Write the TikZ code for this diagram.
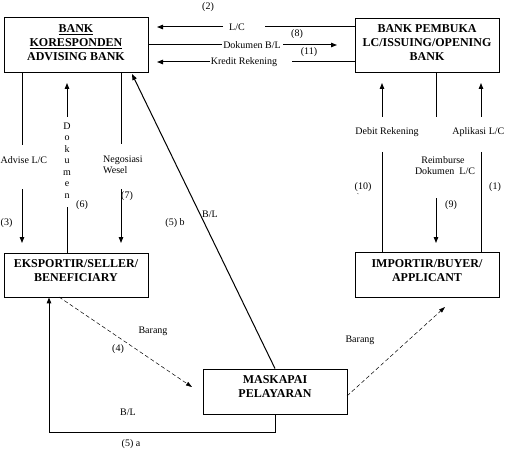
\documentclass[tikz,border=0pt]{standalone}
\usepackage{fontspec}
\setmainfont{Liberation Serif}
\usetikzlibrary{arrows.meta}
\begin{document}
\begin{tikzpicture}[x=1pt,y=-1pt,
  box/.style={draw, line width=0.9pt, inner sep=0pt},
  boxtext/.style={font=\fontsize{12}{14}\selectfont\bfseries, align=center, inner sep=0pt},
  lbl/.style={font=\fontsize{10}{11}\selectfont, inner sep=0pt},
  conn/.style={line width=1pt},
  arr/.style={conn, -{Triangle[length=6pt,width=4.5pt]}},
  dasharr/.style={line width=0.5pt, dash pattern=on 4pt off 2.5pt, -{Triangle[length=6pt,width=4pt]}}
]
\useasboundingbox (0,0) rectangle (505,449);
% boxes
\node[box, minimum width=144pt, minimum height=55pt] (kor) at (76,44.5) {};
\node[box, minimum width=144pt, minimum height=54pt] (pem) at (427,45) {};
\node[box, minimum width=144pt, minimum height=44pt] (eks) at (76,275) {};
\node[box, minimum width=144pt, minimum height=45pt] (imp) at (427,274.5) {};
\node[box, minimum width=144pt, minimum height=45pt] (mas) at (275,391.5) {};
\node[boxtext] (kortxt) at (76,43) {\underline{BANK}\\\underline{KORESPONDEN}\\ADVISING BANK};
\node[boxtext] (pemtxt) at (427,43) {BANK PEMBUKA\\LC/ISSUING/OPENING\\BANK};
\node[boxtext] (ekstxt) at (76,270.5) {EKSPORTIR/SELLER/\\BENEFICIARY};
\node[boxtext] (imptxt) at (427,270.5) {IMPORTIR/BUYER/\\APPLICANT};
\node[boxtext] (mastxt) at (275,387) {MASKAPAI\\PELAYARAN};

% top horizontal connectors
\node[lbl] (n2) at (208,7) {(2)};
\node[lbl] (lc) at (237,27) {L/C};
\coordinate (lcTip) at (157,27);
\coordinate (lcL) at (223,27);
\coordinate (lcR) at (265,27);
\draw[conn] (pem.west |- lcR) -- (lcR);
\draw[arr] (lcL) -- (lcTip);

\node[lbl] (n8) at (297,34) {(8)};
\node[lbl] (dbl) at (252,45) {Dokumen B/L};
\coordinate (dbL) at (222,45);
\coordinate (dbR) at (283,45);
\coordinate (dbTip) at (337,45);
\draw[conn] (kor.east |- dbL) -- (dbL);
\draw[arr] (dbR) -- (dbTip);

\node[lbl] (n11) at (309,52) {(11)};
\node[lbl] (kr) at (244,62) {Kredit Rekening};
\coordinate (krL) at (210,62);
\coordinate (krTip) at (157,62);
\coordinate (krR) at (292,62);
\draw[conn] (pem.west |- krR) -- (krR);
\draw[arr] (krL) -- (krTip);

% left verticals
\node[lbl, anchor=west] (adv) at (0.5,160) {Advise L/C};
\node[lbl, anchor=west] (n3) at (0.5,223) {(3)};
\coordinate (advA) at (22,145);
\coordinate (advB) at (22,189);
\coordinate (advTip) at (22,243);
\draw[conn] (kor.south -| advA) -- (advA);
\draw[arr] (advB) -- (advTip);

\node[lbl, align=center, font=\fontsize{10}{11.5}\selectfont] (dok) at (67,160.5) {D\\o\\k\\u\\m\\e\\n};
\node[lbl] (n6) at (82,205) {(6)};
\coordinate (dokA) at (67,117);
\coordinate (dokTip) at (67,83);
\coordinate (dokB) at (67,207);
\draw[arr] (dokA) -- (dokTip);
\draw[conn] (eks.north -| dokB) -- (dokB);

\node[lbl, align=left, anchor=west] (neg) at (103,165) {Negosiasi\\Wesel};
\node[lbl] (n7) at (127,196) {(7)};
\coordinate (negA) at (121,144);
\coordinate (negB) at (121,189);
\coordinate (negTip) at (121,243);
\draw[conn] (kor.south -| negA) -- (negA);
\draw[arr] (negB) -- (negTip);

% diagonal B/L
\node[lbl] (n5b) at (175,223) {(5) b};
\node[lbl] (blb) at (210,214) {B/L};
\coordinate (diagTip) at (132,74);
\draw[arr] (mas.north) -- (diagTip);

% right verticals
\node[lbl] (deb) at (387,132) {Debit Rekening};
\node[lbl] (n10) at (363,187) {(10)};
\node[lbl, font=\fontsize{7}{8}\selectfont] (tick) at (358,196) {\textasciigrave};
\coordinate (debA) at (382,117);
\coordinate (debTip) at (382,83);
\coordinate (debB) at (382,152);
\draw[arr] (debA) -- (debTip);
\draw[conn] (debB) -- (imp.north -| debB);

\node[lbl, align=center] (rei) at (443,165.5) {Reimburse\\\hspace*{4pt}Dokumen\ \ L/C};
\node[lbl] (n9) at (451,205) {(9)};
\coordinate (reiA) at (436,117);
\coordinate (reiB) at (436,198);
\coordinate (reiTip) at (436,243);
\draw[conn] (pem.south -| reiA) -- (reiA);
\draw[arr] (reiB) -- (reiTip);

\node[lbl, anchor=east] (apl) at (504.5,132) {Aplikasi L/C};
\node[lbl] (n1) at (495,187) {(1)};
\coordinate (aplA) at (481,117);
\coordinate (aplTip) at (481,83);
\coordinate (aplB) at (481,152);
\draw[arr] (aplA) -- (aplTip);
\draw[conn] (aplB) -- (imp.north -| aplB);

% bottom
\coordinate (d1s) at (59,297);
\coordinate (d1t) at (192,387);
\draw[dasharr] (d1s) -- (d1t);
\node[lbl] (bar1) at (153,331) {Barang};
\node[lbl] (n4) at (118,349) {(4)};

\coordinate (d2s) at (347,396);
\coordinate (d2t) at (445,307);
\draw[dasharr] (d2s) -- (d2t);
\node[lbl] (bar2) at (360,340) {Barang};

\coordinate (blA) at (275,432);
\coordinate (blB) at (49,432);
\draw[arr] (mas.south) -- (blA) -- (blB) -- (blB |- eks.south);
\node[lbl] (bla) at (128,412) {B/L};
\node[lbl, anchor=south] (n5a) at (131,448.5) {(5) a};
\end{tikzpicture}
\end{document}
